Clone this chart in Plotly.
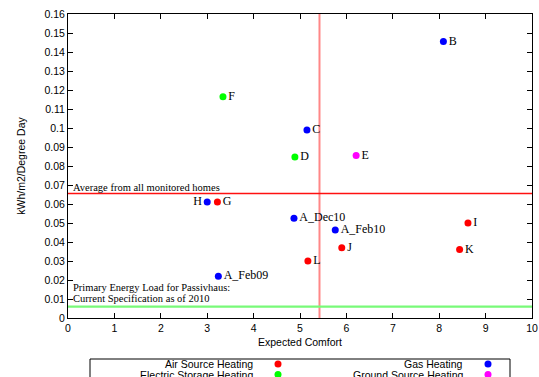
import plotly.graph_objects as go

# ---- data ----
air_x = [3.22, 8.62, 5.90, 8.44, 5.17]
air_y = [0.061, 0.050, 0.037, 0.036, 0.030]
air_lbl = ["G", "I", "J", "K", "L"]

gas_x = [8.09, 5.15, 3.00, 3.24, 4.87, 5.76]
gas_y = [0.1455, 0.099, 0.061, 0.022, 0.0525, 0.0463]
gas_lbl = ["B", "C", "H", "A_Feb09", "A_Dec10", "A_Feb10"]
gas_pos = ["middle right", "middle right", "middle left", "middle right", "middle right", "middle right"]

elec_x = [3.34, 4.89]
elec_y = [0.1165, 0.0848]
elec_lbl = ["F", "D"]

gsrc_x = [6.21]
gsrc_y = [0.0855]
gsrc_lbl = ["E"]

avg_comfort = 5.42
avg_load = 0.0655
passiv_load = 0.006

series_names = ["Air Source Heating", "Gas Heating", "Electric Storage Heating", "Ground Source Heating"]
series_colors = ["#ff0000", "#0000ff", "#00ff00", "#ff00ff"]

x_ticks = list(range(0, 11))
y_ticks = [i / 100 for i in range(0, 17)]
y_tick_text = ["0", "0.01", "0.02", "0.03", "0.04", "0.05", "0.06", "0.07", "0.08", "0.09",
               "0.1", "0.11", "0.12", "0.13", "0.14", "0.15", "0.16"]

W, H = 539, 377
ML, MR, MT, MB = 68, 7, 14, 59
PW, PH = W - ML - MR, H - MT - MB


def px(x):
    return (x - ML) / PW


def py(y):
    return (H - MB - y) / PH


label_font = dict(family="Liberation Serif", size=12, color="black")
note_font = dict(family="Liberation Serif", size=10.5, color="black")
sans = dict(family="Liberation Sans", size=10.5, color="black")

fig = go.Figure()


def add(xs, ys, lbls, color, pos="middle right"):
    fig.add_trace(go.Scatter(
        x=xs, y=ys, text=lbls, mode="markers+text", textposition=pos,
        marker=dict(color=color, size=7), textfont=label_font,
        showlegend=False, cliponaxis=False))


# reference lines
fig.add_shape(type="line", xref="x", yref="y", x0=avg_comfort, x1=avg_comfort, y0=0, y1=0.16,
              line=dict(color="rgb(255,135,135)", width=2), layer="below")
fig.add_shape(type="line", xref="x", yref="y", x0=0, x1=10, y0=avg_load, y1=avg_load,
              line=dict(color="#ff1010", width=1.5), layer="below")
fig.add_shape(type="line", xref="x", yref="y", x0=0, x1=10, y0=passiv_load, y1=passiv_load,
              line=dict(color="rgb(120,250,120)", width=2.2), layer="below")

add(air_x, air_y, air_lbl, series_colors[0])
add(gas_x, gas_y, gas_lbl, series_colors[1], gas_pos)
add(elec_x, elec_y, elec_lbl, series_colors[2])
add(gsrc_x, gsrc_y, gsrc_lbl, series_colors[3])

fig.add_annotation(x=px(71), y=py(187), xref="paper", yref="paper", text="Average from all monitored homes",
                   showarrow=False, xanchor="left", yanchor="middle", font=note_font)
fig.add_annotation(x=px(71), y=py(287.5), xref="paper", yref="paper",
                   text="Primary Energy Load for Passivhaus:",
                   showarrow=False, xanchor="left", yanchor="middle", font=note_font)
fig.add_annotation(x=px(71), y=py(298.5), xref="paper", yref="paper",
                   text="Current Specification as of 2010",
                   showarrow=False, xanchor="left", yanchor="middle", font=note_font)

# legend box (manual, gnuplot style)
fig.add_shape(type="rect", xref="paper", yref="paper", x0=px(90), x1=px(510), y0=py(359), y1=py(395),
              line=dict(color="black", width=1), fillcolor="rgba(0,0,0,0)")
leg_text_x = [255, 465, 255, 465]
leg_mark_x = [278, 488, 278, 488]
leg_y = [364, 364, 374.5, 374.5]
for name, col, tx, mx, yy in zip(series_names, series_colors, leg_text_x, leg_mark_x, leg_y):
    fig.add_annotation(x=px(tx), y=py(yy), xref="paper", yref="paper", text=name, showarrow=False,
                       xanchor="right", yanchor="middle", font=sans)
    fig.add_shape(type="circle", xref="paper", yref="paper",
                  x0=px(mx - 3.5), x1=px(mx + 3.5), y0=py(yy + 3.5), y1=py(yy - 3.5),
                  fillcolor=col, line=dict(color=col, width=0))

axis_common = dict(showline=True, linecolor="black", linewidth=1, mirror="allticks",
                   ticks="inside", ticklen=5, tickcolor="black", showgrid=False, zeroline=False,
                   tickfont=sans)

fig.update_xaxes(range=[0, 10], tickvals=x_ticks, title=dict(text="Expected Comfort", font=sans, standoff=6),
                 **axis_common)
fig.update_yaxes(range=[0, 0.16], tickvals=y_ticks, ticktext=y_tick_text,
                 title=dict(text="kWh/m2/Degree Day", font=sans, standoff=16), **axis_common)

fig.update_layout(width=W, height=H, margin=dict(l=ML, r=MR, t=MT, b=MB, autoexpand=False),
                  plot_bgcolor="white", paper_bgcolor="white")

fig.write_html("out.html", config={"displayModeBar": False})

# remove default page margin so the figure sits at the window's top-left corner
with open("out.html", "r", encoding="utf-8") as f:
    html = f.read()
html = html.replace("<head>", "<head><style>html,body{margin:0;padding:0;overflow:hidden;}</style>", 1)
with open("out.html", "w", encoding="utf-8") as f:
    f.write(html)
